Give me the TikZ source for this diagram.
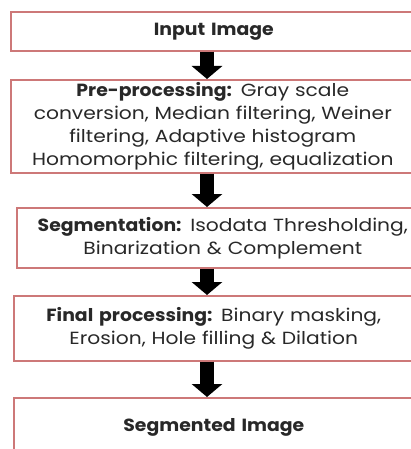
\documentclass[tikz,border=0pt]{standalone}
\usepackage{fontspec}
\setmainfont{Poppins}[FakeStretch=1.15, BoldFeatures={FakeStretch=1.07}, WordSpace=0.85]
\usetikzlibrary{arrows.meta}
\definecolor{boxred}{RGB}{205,120,120}
\definecolor{txt}{RGB}{40,40,40}
\begin{document}
\begin{tikzpicture}[x=1pt,y=-1pt,
  box/.style={draw=boxred, line width=1.6pt, rectangle, anchor=north west, inner sep=0pt,
    align=center, text=txt, font=\fontsize{17.6}{23}\selectfont},
  bigarrow/.style={line width=14pt, black, -{Triangle[length=13pt,width=30pt]}}]
\useasboundingbox (0,0) rectangle (411,449);
\clip (0,0) rectangle (411,449);
\coordinate (ax) at (207,0);
\node[box, text width=406pt, minimum height=39pt] (b1) at (10,11) {\textbf{Input Image}};
\node[box, text width=404pt, minimum height=93pt] (b2) at (10,79)
  {\textbf{Pre-processing:} Gray scale\\conversion, Median filtering, Weiner\\filtering, Adaptive histogram\\Homomorphic filtering, equalization};
\node[box, text width=412pt, minimum height=60pt] (b3) at (16,207)
  {\textbf{Segmentation:} Isodata Thresholding,\\Binarization \& Complement};
\node[box, text width=400pt, minimum height=65pt] (b4) at (13,295)
  {\textbf{Final processing:} Binary masking,\\Erosion, Hole filling \& Dilation};
\node[box, text width=400pt, minimum height=60pt] (b5) at (13,397) {\textbf{Segmented Image}};
\draw[bigarrow] (b1.south -| ax) -- (b2.north -| ax);
\draw[bigarrow] (b2.south -| ax) -- (b3.north -| ax);
\draw[bigarrow] (b3.south -| ax) -- (b4.north -| ax);
\draw[bigarrow] (b4.south -| ax) -- (b5.north -| ax);
\end{tikzpicture}
\end{document}
